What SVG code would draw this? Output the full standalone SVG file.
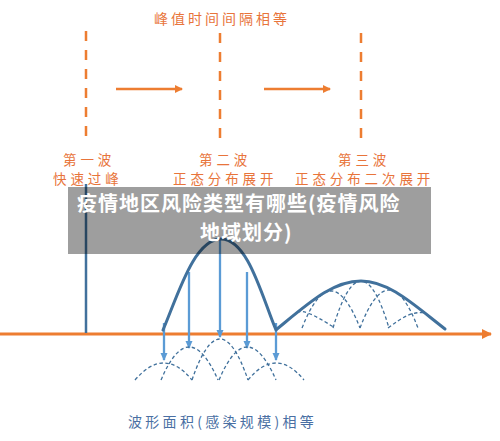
<svg xmlns="http://www.w3.org/2000/svg" width="500" height="441" viewBox="0 0 500 441">
<defs>
<style>
.cjk{font-family:"Noto Sans CJK SC","Noto Sans",sans-serif}
.org{fill:#e8743b;font-size:13.5px;letter-spacing:3.9px}
.vdash{stroke:#ed7d31;stroke-width:2.5;stroke-dasharray:10,9;fill:none}
.oarrow{stroke:#ed7d31;stroke-width:2.5;fill:none;marker-end:url(#oh)}
.main{stroke:#41719c;stroke-width:3;fill:none;stroke-linecap:round;stroke-linejoin:round}
.bell{stroke:#41719c;stroke-width:1.3;fill:none;stroke-dasharray:3.5,2.5}
.barrow{stroke:#5b9bd5;stroke-width:2.3;fill:none;marker-end:url(#bh)}
.ban{fill:#ffffff;font-size:20px;font-weight:bold}
</style>
<marker id="oh" markerWidth="8" markerHeight="8" refX="7" refY="4" orient="auto" markerUnits="userSpaceOnUse">
<path d="M0,0 L8,4 L0,8 Z" fill="#ed7d31"/>
</marker>
<marker id="bh" markerWidth="8" markerHeight="8" refX="7" refY="4" orient="auto" markerUnits="userSpaceOnUse">
<path d="M0,0.5 L8,4 L0,7.5 Z" fill="#5b9bd5"/>
</marker>
<marker id="ah" markerWidth="10" markerHeight="10" refX="9" refY="5" orient="auto" markerUnits="userSpaceOnUse">
<path d="M0,0 L10,5 L0,10 Z" fill="#ed7d31"/>
</marker>
</defs>
<rect width="500" height="441" fill="#ffffff"/>

<g id="title">
<text class="cjk" x="154" y="24" fill="#e8743b" font-size="14" letter-spacing="3">峰值时间间隔相等</text>
</g>

<g id="connectors">
<line class="vdash" x1="86" y1="31" x2="86" y2="137"/>
<line class="vdash" x1="220" y1="33" x2="220" y2="140"/>
<line class="vdash" x1="361" y1="33" x2="361" y2="140"/>
<line class="oarrow" x1="116" y1="89" x2="182" y2="89"/>
<line class="oarrow" x1="264" y1="89" x2="330" y2="89"/>
<line x1="0" y1="334" x2="491" y2="334" stroke="#ed7d31" stroke-width="3" marker-end="url(#ah)"/>
<line class="barrow" x1="164" y1="323" x2="164" y2="360"/>
<line class="barrow" x1="189" y1="272" x2="189" y2="348"/>
<line class="barrow" x1="220" y1="239" x2="220" y2="337"/>
<line class="barrow" x1="247" y1="272" x2="247" y2="348"/>
<line class="barrow" x1="276" y1="323" x2="276" y2="360"/>
</g>

<g id="wave1">
<line x1="86" y1="184" x2="86" y2="333" stroke="#41719c" stroke-width="2.5"/>
<text class="cjk org" x="63" y="165">第一波</text>
<text class="cjk org" x="53" y="184">快速过峰</text>
</g>

<g id="wave2">
<path class="main" d="M163,330 C178,295 194,239 221,239 C248,239 262,297 276,330"/>
<text class="cjk org" x="199" y="165">第二波</text>
<text class="cjk org" x="173" y="184">正态分布展开</text>
</g>

<g id="wave2-bells">
<path class="bell" d="M135,380 Q164,346 192,380"/>
<path class="bell" d="M161,380 Q189,314 218,380"/>
<path class="bell" d="M192,380 Q220,298 248,380"/>
<path class="bell" d="M219,380 Q247,314 276,380"/>
<path class="bell" d="M248,380 Q276,346 304,380"/>
</g>

<g id="wave3">
<path class="bell" d="M297,312 C304,310 313,314 335,328"/>
<path class="bell" d="M302,328 Q331,254 360,328"/>
<path class="bell" d="M333,328 Q361,234 389,328"/>
<path class="bell" d="M360,328 Q389,252 418,328"/>
<path class="bell" d="M388,328 C404,316 413,311 426,313"/>
<path class="main" d="M277,329 C310,302 333,281 361,281 C389,281 414,305 445,329"/>
<text class="cjk org" x="338" y="165">第三波</text>
<text class="cjk org" x="295" y="184">正态分布二次展开</text>
</g>

<g id="bottom-label">
<text class="cjk" x="128" y="427" fill="#4a6fa3" font-size="14" letter-spacing="3.3">波形面积(感染规模)相等</text>
</g>

<g id="banner">
<rect x="68" y="187" width="363" height="67" fill="#000000" fill-opacity="0.38"/>
<text class="cjk ban" x="77" y="211" letter-spacing="1">疫情地区风险类型有哪些(疫情风险</text>
<text class="cjk ban" x="200" y="240" letter-spacing="1">地域划分)</text>
</g>
</svg>
